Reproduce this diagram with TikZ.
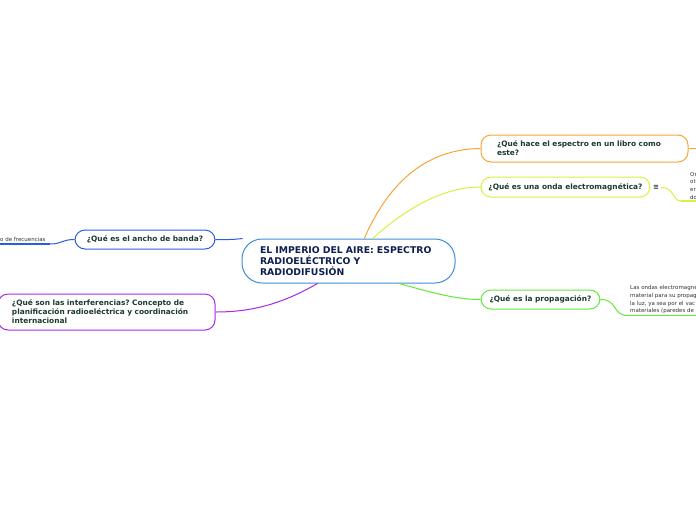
\documentclass[tikz,border=0pt]{standalone}
\usepackage{fontspec}
\setmainfont{DejaVu Sans}
\frenchspacing
\definecolor{cblue}{HTML}{3D8ED8}
\definecolor{corange}{HTML}{F7A535}
\definecolor{cyellow}{HTML}{D5F23E}
\definecolor{cgreen}{HTML}{62EA3A}
\definecolor{cbl}{HTML}{2D5BE3}
\definecolor{cpurple}{HTML}{A52AE6}
\definecolor{tgreen}{HTML}{1C3B2C}
\definecolor{tnavy}{HTML}{0E1E4E}
\definecolor{tgray}{HTML}{333333}
\begin{document}
\begin{tikzpicture}[x=1pt,y=-1pt,
  cbox/.style={draw=cblue, line width=1pt, rounded corners=20pt, fill=white, inner ysep=0pt,
    font=\bfseries\fontsize{9.3}{11}\selectfont, text=tnavy, align=left},
  box/.style={draw, line width=1pt, rounded corners=10pt, fill=white, inner ysep=0pt,
    font=\bfseries\fontsize{7.4}{9}\selectfont, text=tgreen, align=left},
  conn/.style={line width=1pt},
  small/.style={font=\fontsize{5.5}{7.7}\selectfont, text=tgray, inner sep=0pt, align=left},
  uline/.style={line width=1.6pt}]
\useasboundingbox (0,0) rectangle (696,520);
\clip (0,0) rectangle (696,520);
\fill[white] (0,0) rectangle (696,520);

% central
\node[cbox, minimum width=213, minimum height=44, text width=177, inner xsep=18] (c) at (348.5,261)
  {EL IMPERIO DEL AIRE: ESPECTRO\\RADIOELÉCTRICO Y\\RADIODIFUSIÓN};

% branches
\node[box, draw=corange, minimum width=207, minimum height=27, text width=175, inner xsep=16] (o) at (584.5,148.5)
  {¿Qué hace el espectro en un libro como\\este?};
\node[box, draw=cyellow, minimum width=169, minimum height=20, inner xsep=0pt] (y) at (565.5,187)
  {¿Qué es una onda electromagnética?};
\node[box, draw=cgreen, minimum width=119, minimum height=19, inner xsep=0pt] (g) at (540.5,299.5)
  {¿Qué es la propagación?};
\node[box, draw=cbl, minimum width=140, minimum height=19, inner xsep=0pt] (b) at (145,239.5)
  {¿Qué es el ancho de banda?};
\node[box, draw=cpurple, minimum width=217, minimum height=36, text width=189, inner xsep=14] (p) at (106.5,312)
  {¿Qué son las interferencias? Concepto de\\planificación radioeléctrica y coordinación\\internacional};

% connectors from center
\draw[conn, corange] (c.55) .. controls (382,198) and (415,149) .. (o.west);
\draw[conn, cyellow] (c.43) .. controls (402,212) and (440,187) .. (y.west);
\draw[conn, cgreen] (c.-24) .. controls (430,292) and (455,299.5) .. (g.west);
\draw[conn, cbl] (c.168) .. controls (230,240) and (222,239.5) .. (b.east);
\draw[conn, cpurple] (c.-144) .. controls (280,305) and (250,312) .. (p.east);

% orange sub
\coordinate (oe) at (696,148.5);
\draw[conn, corange] (o.east) -- (oe);

% yellow sub
\node[font=\bfseries\fontsize{7}{7}\selectfont, text=tgreen, inner sep=0pt] (ic) at (656,187.5) {≡};
\coordinate (y1) at (681,201);
\coordinate (y2) at (700,201);
\draw[conn, cyellow] (ic.east) ++(2,0) .. controls (675,187.5) and (672,201) .. (y1);
\draw[uline, cyellow] (y1) -- (y2);
\node[small, anchor=north west] (yt) at (690,172) {On\\ot\\er\\do};

% green sub
\coordinate (g1) at (628,315.5);
\coordinate (g2) at (700,315.5);
\draw[conn, cgreen] (g.east) .. controls (618,299.5) and (612,315.5) .. (g1);
\draw[uline, cgreen] (g1) -- (g2);
\node[small, anchor=north west] (gt) at (630,285)
  {Las ondas electromagné\\material para su propag\\la luz, ya sea por el vac\\materiales (paredes de};

% blue sub
\coordinate (b1) at (50,244);
\coordinate (b2) at (-2,244);
\draw[conn, cbl] (b.west) .. controls (62,239.5) and (62,244) .. (b1);
\draw[uline, cbl] (b1) -- (b2);
\node[small, anchor=south west] (bt) at (0,242) {o de frecuencias};
\end{tikzpicture}
\end{document}
